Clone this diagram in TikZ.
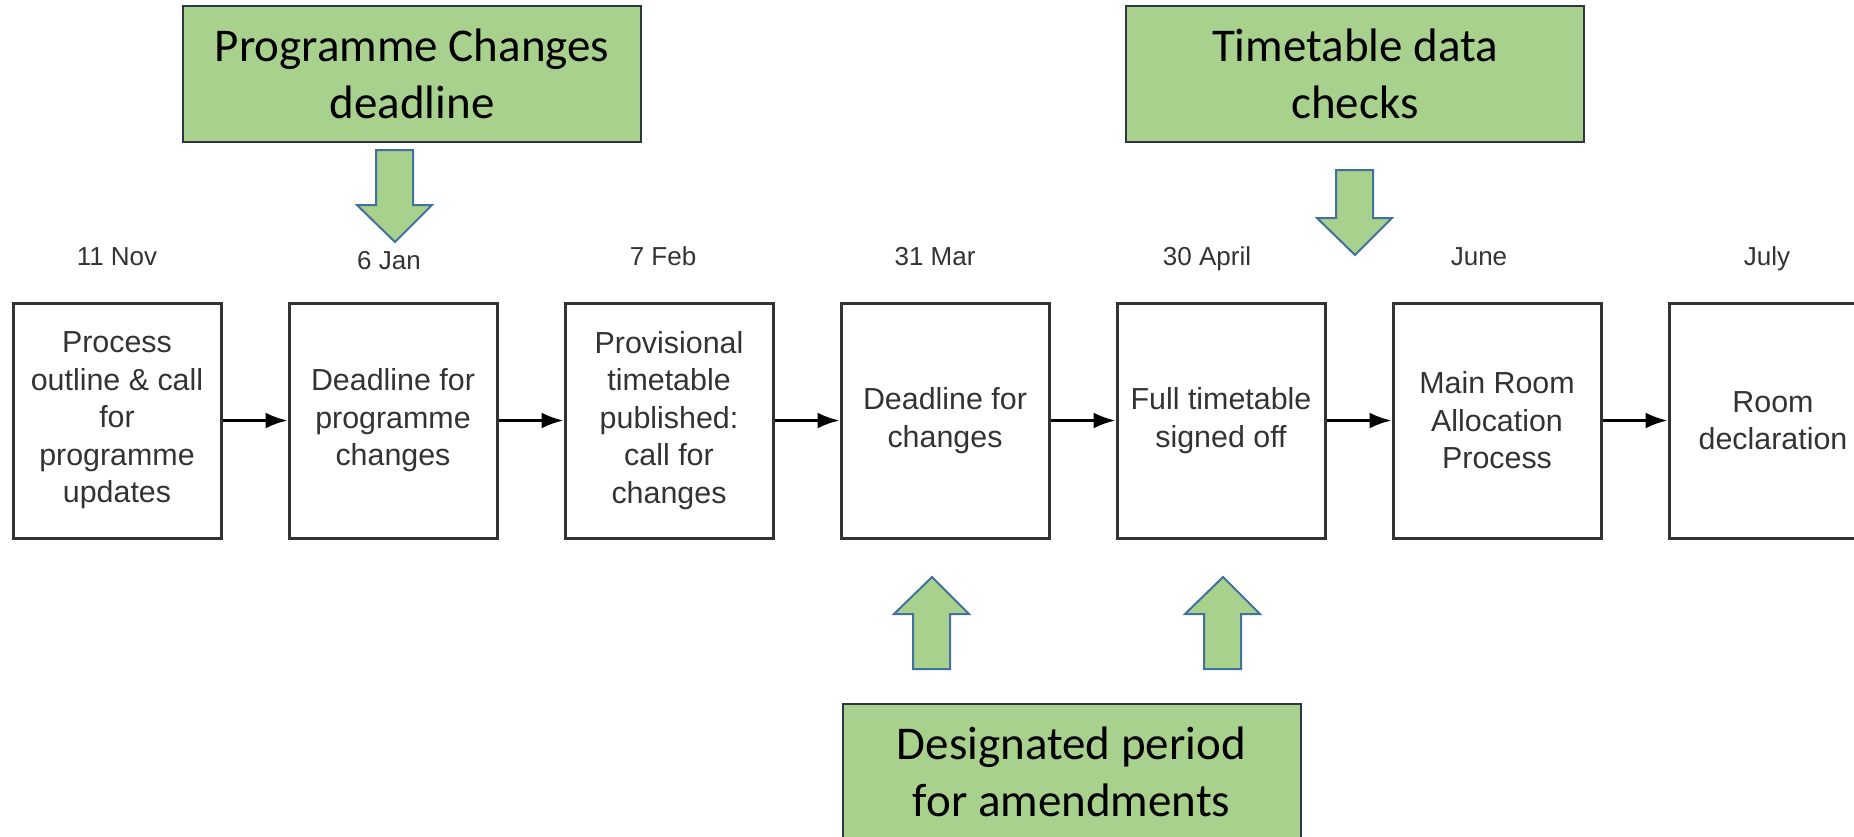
\documentclass[tikz,border=0pt]{standalone}
\usepackage{fontspec}
\setmainfont{Liberation Sans}
\newfontfamily\calibrifont{Carlito}
\usetikzlibrary{positioning,arrows.meta}
\definecolor{colorbox}      {RGB}{51 ,51 ,51 }
\definecolor{colordate}     {RGB}{51 ,51 ,51 }
\definecolor{colornote}     {RGB}{169,209,142}
\definecolor{colornoteline} {RGB}{47 ,54 ,64 }
\definecolor{colorblock}    {RGB}{65 ,113,156}

\begin{document}
\begin{tikzpicture}[
    x=0.5pt, y=-0.5pt,
    node distance = 32.5pt,
    stepbox/.style={draw=colorbox,line width=1.5pt,text=colorbox,align=center,inner sep=0pt,
        minimum width=104pt,minimum height=117.5pt,font={\fontsize{15.2}{18.75}\selectfont}},
    datetxt/.style={text=colordate,inner sep=0pt,text depth=0pt,font={\fontsize{13}{15}\selectfont}},
    notebox/.style={draw=colornoteline,line width=1pt,fill=colornote,align=center,inner sep=0pt,
        minimum width=229pt,minimum height=68pt,font={\calibrifont\fontsize{23.5}{28.5}\selectfont}},
    flowarrow/.style={-{Latex[length=11pt,width=8pt]},line width=1.4pt,black},
    blockarrow/.style={draw=colorblock,line width=1pt,fill=colornote,line join=miter},
]
    \useasboundingbox (0,0) rectangle (1854,836);

    % Steps
    \node[stepbox] (outline) at (117,420.5) {Process\\outline \& call\\for\\programme\\updates};
    \node[stepbox,right=of outline]      (progdeadline) {Deadline for\\programme\\changes};
    \node[stepbox,right=of progdeadline] (provisional)  {Provisional\\timetable\\published:\\call for\\changes};
    \node[stepbox,right=of provisional]  (deadline)     {Deadline for\\changes};
    \node[stepbox,right=of deadline]     (signoff)      {Full timetable\\signed off};
    \node[stepbox,right=of signoff]      (allocation)   {Main Room\\Allocation\\Process};
    \node[stepbox,right=of allocation]   (declaration)  {Room\\declaration};

    % Dates
    \node[datetxt,above=18pt of outline]                  (nov)   {11 Nov};
    \node[datetxt,above=16pt of progdeadline,xshift=-2pt] (jan)   {6 Jan};
    \node[datetxt,above=18pt of provisional,xshift=-3pt]  (feb)   {7 Feb};
    \node[datetxt,above=18pt of deadline,xshift=-5pt]     (mar)   {31 Mar};
    \node[datetxt,above=18pt of signoff,xshift=-7pt]      (apr)   {30 April};
    \node[datetxt,above=18pt of allocation,xshift=-9pt]   (jun)   {June};
    \node[datetxt,above=18pt of declaration,xshift=-3pt]  (jul)   {July};

    % Arrows
    \draw[flowarrow] (outline) -- (progdeadline);
    \draw[flowarrow] (progdeadline) -- (provisional);
    \draw[flowarrow] (provisional) -- (deadline);
    \draw[flowarrow] (deadline) -- (signoff);
    \draw[flowarrow] (signoff) -- (allocation);
    \draw[flowarrow] (allocation) -- (declaration);

    % Notes
    \node[notebox] (prognote)   at (412,74)     {Programme Changes\\deadline};
    \node[notebox] (checknote)  at (1355,74)    {Timetable data\\checks};
    \node[notebox] (amendnote)  at (1071.5,772) {Designated period\\for amendments};

    % Block arrows
    \coordinate (progtip)  at (395,242);
    \coordinate (checktip) at (1355,255);
    \coordinate (amendtipa) at (932,577);
    \coordinate (amendtipb) at (1223,577);
    \draw[blockarrow] (progtip) -- ++(-38,-37) -- ++(19,0) -- ++(0,-55) -- ++(37,0) -- ++(0,55) -- ++(19,0) -- cycle;
    \draw[blockarrow] (checktip) -- ++(-38,-37) -- ++(19,0) -- ++(0,-48) -- ++(37,0) -- ++(0,48) -- ++(19,0) -- cycle;
    \draw[blockarrow] (amendtipa) -- ++(-38,37) -- ++(19,0) -- ++(0,55) -- ++(37,0) -- ++(0,-55) -- ++(19,0) -- cycle;
    \draw[blockarrow] (amendtipb) -- ++(-38,37) -- ++(19,0) -- ++(0,55) -- ++(37,0) -- ++(0,-55) -- ++(19,0) -- cycle;

\end{tikzpicture}
\end{document}
